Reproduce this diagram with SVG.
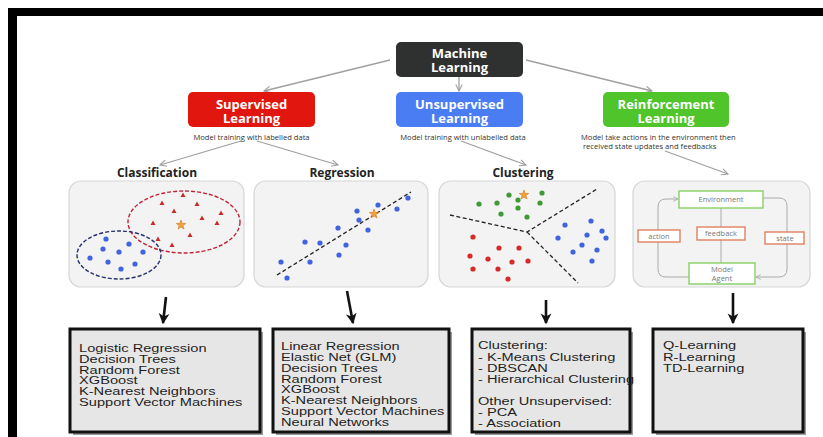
<svg xmlns="http://www.w3.org/2000/svg" width="823" height="437" viewBox="0 0 823 437">
<style>
.hdr{font-family:"Open Sans","DejaVu Sans",sans-serif;font-weight:bold;font-size:13px;fill:#fff;text-anchor:middle}
.cap{font-family:"Open Sans","DejaVu Sans",sans-serif;font-size:7.6px;fill:#333}
.lbl{font-family:"Open Sans","DejaVu Sans",sans-serif;font-weight:bold;font-size:12px;fill:#222;text-anchor:middle}
.panel{fill:#f3f3f3;stroke:#d6d6d6;stroke-width:1.2}
.gline{fill:none;stroke:#a0a0a0;stroke-width:1.3}
.bline{fill:none;stroke:#111;stroke-width:2.6}
.lst{font-family:"Liberation Sans",Arial,sans-serif;font-size:11px;fill:#1e1e1e}
.bx{fill:#e6e6e6;stroke:#111;stroke-width:3}
.shd{fill:#9a9a9a}
.rl{font-family:"Open Sans","DejaVu Sans",sans-serif;font-size:7.5px;fill:#777;text-anchor:middle}
.gbox{fill:#fff;stroke:#86d062;stroke-width:1.4}
.obox{fill:#fff;stroke:#e0805f;stroke-width:1.4}
.rlline{fill:none;stroke:#aaa;stroke-width:1}
.bd{fill:#4163e0}
.rd{fill:#d42a2a}
.gd{fill:#3f9a35}
</style>
<defs>
<marker id="ga" viewBox="0 0 10 10" refX="9" refY="5" markerWidth="8" markerHeight="8" markerUnits="userSpaceOnUse" orient="auto"><path d="M1,1 L9,5 L1,9" fill="none" stroke="#a0a0a0" stroke-width="1.4"/></marker>
<marker id="sa" viewBox="0 0 10 10" refX="9" refY="5" markerWidth="6" markerHeight="6" markerUnits="userSpaceOnUse" orient="auto"><path d="M1,1 L9,5 L1,9" fill="none" stroke="#aaa" stroke-width="1.4"/></marker>
<marker id="ba" viewBox="0 0 10 10" refX="8" refY="5" markerWidth="12" markerHeight="12" markerUnits="userSpaceOnUse" orient="auto"><path d="M0,0.5 L9,5 L0,9.5 L2.5,5 Z" fill="#111"/></marker>
<path id="tri" d="M0,-2.6 L2.5,2 L-2.5,2 Z" fill="#c82828"/>
<path id="star" d="M0,-5 L1.18,-1.62 L4.76,-1.55 L1.9,0.62 L2.94,4.05 L0,2 L-2.94,4.05 L-1.9,0.62 L-4.76,-1.55 L-1.18,-1.62 Z" fill="#f2a33a" stroke="#d2741a" stroke-width="0.6"/>
</defs>

<rect width="823" height="437" fill="#fff"/>
<rect x="8" y="8" width="815" height="8" fill="#000"/>
<rect x="8" y="8" width="9" height="429" fill="#000"/>

<g id="connectors">
<line class="gline" x1="390" y1="60" x2="264" y2="91" marker-end="url(#ga)"/>
<line class="gline" x1="459" y1="77" x2="459" y2="91" marker-end="url(#ga)"/>
<line class="gline" x1="526" y1="60" x2="652" y2="91" marker-end="url(#ga)"/>
<line class="gline" x1="241" y1="141" x2="160" y2="165" marker-end="url(#ga)"/>
<line class="gline" x1="257" y1="141" x2="338" y2="165" marker-end="url(#ga)"/>
<line class="gline" x1="461" y1="141" x2="526" y2="165" marker-end="url(#ga)"/>
<line class="gline" x1="665" y1="151" x2="728" y2="174" marker-end="url(#ga)"/>
<line class="bline" x1="166" y1="297" x2="163" y2="323" marker-end="url(#ba)"/>
<line class="bline" x1="347" y1="291" x2="353" y2="323" marker-end="url(#ba)"/>
<line class="bline" x1="546" y1="300" x2="546" y2="323" marker-end="url(#ba)"/>
<line class="bline" x1="733" y1="293" x2="733" y2="323" marker-end="url(#ba)"/>
</g>

<g id="machine-learning">
<rect x="396" y="42" width="127" height="35" rx="5" fill="#2f3030"/>
<text class="hdr" x="459.5" y="58">Machine</text>
<text class="hdr" x="459.5" y="72">Learning</text>
</g>

<g id="supervised">
<rect x="188" y="92" width="127" height="35" rx="5" fill="#e1170f"/>
<text class="hdr" x="251.5" y="109">Supervised</text>
<text class="hdr" x="251.5" y="123">Learning</text>
<text class="cap" x="251.5" y="140" text-anchor="middle">Model training with labelled data</text>
</g>

<g id="unsupervised">
<rect x="396" y="92" width="127" height="35" rx="5" fill="#4a7cf3"/>
<text class="hdr" x="459.5" y="109">Unsupervised</text>
<text class="hdr" x="459.5" y="123">Learning</text>
<text class="cap" x="463" y="140" text-anchor="middle">Model training with unlabelled data</text>
</g>

<g id="reinforcement">
<rect x="603" y="92" width="126" height="35" rx="5" fill="#4fc42b"/>
<text class="hdr" x="666" y="109">Reinforcement</text>
<text class="hdr" x="666" y="123">Learning</text>
<text class="cap" x="581" y="140">Model take actions in the environment then</text>
<text class="cap" x="583" y="148.5">received state updates and feedbacks</text>
</g>

<g id="classification">
<text class="lbl" x="157" y="177">Classification</text>
<rect class="panel" x="69" y="181" width="175" height="106" rx="12"/>
<ellipse cx="184" cy="222" rx="56" ry="31" fill="none" stroke="#c0243a" stroke-width="1.4" stroke-dasharray="4,2"/>
<ellipse cx="119" cy="255" rx="42" ry="24" fill="none" stroke="#27306e" stroke-width="1.4" stroke-dasharray="4,2"/>
<use href="#tri" x="183" y="195"/><use href="#tri" x="162" y="203"/><use href="#tri" x="197" y="204"/>
<use href="#tri" x="174" y="211"/><use href="#tri" x="221" y="213"/><use href="#tri" x="202" y="218"/>
<use href="#tri" x="153" y="223"/><use href="#tri" x="217" y="223"/><use href="#tri" x="190" y="235"/>
<use href="#tri" x="158" y="239"/><use href="#tri" x="172" y="245"/>
<use href="#star" x="181" y="225"/>
<circle class="bd" cx="106" cy="239" r="2.6"/><circle class="bd" cx="129" cy="244" r="2.6"/>
<circle class="bd" cx="103" cy="249" r="2.6"/><circle class="bd" cx="119" cy="252" r="2.6"/>
<circle class="bd" cx="143" cy="252" r="2.6"/><circle class="bd" cx="90" cy="258" r="2.6"/>
<circle class="bd" cx="108" cy="262" r="2.6"/><circle class="bd" cx="135" cy="264" r="2.6"/>
<circle class="bd" cx="121" cy="269" r="2.6"/>
</g>

<g id="regression">
<text class="lbl" x="342" y="177">Regression</text>
<rect class="panel" x="254" y="181" width="174" height="106" rx="12"/>
<line x1="277" y1="275" x2="411" y2="192" stroke="#222" stroke-width="1.3" stroke-dasharray="4,2.5"/>
<circle class="bd" cx="408" cy="198" r="2.6"/><circle class="bd" cx="378" cy="205" r="2.6"/>
<circle class="bd" cx="397" cy="209" r="2.6"/><circle class="bd" cx="357" cy="211" r="2.6"/>
<circle class="bd" cx="359" cy="220" r="2.6"/><circle class="bd" cx="368" cy="230" r="2.6"/>
<circle class="bd" cx="338" cy="228" r="2.6"/><circle class="bd" cx="305" cy="242" r="2.6"/>
<circle class="bd" cx="320" cy="243" r="2.6"/><circle class="bd" cx="346" cy="245" r="2.6"/>
<circle class="bd" cx="339" cy="255" r="2.6"/><circle class="bd" cx="310" cy="262" r="2.6"/>
<circle class="bd" cx="281" cy="262" r="2.6"/><circle class="bd" cx="287" cy="278" r="2.6"/>
<use href="#star" x="374" y="214"/>
</g>

<g id="clustering">
<text class="lbl" x="523" y="177">Clustering</text>
<rect class="panel" x="439" y="181" width="176" height="106" rx="12"/>
<path d="M450,215 L527,232 L597,189 M527,232 L578,283" fill="none" stroke="#222" stroke-width="1.3" stroke-dasharray="4,2.5"/>
<circle class="gd" cx="509" cy="195" r="2.6"/><circle class="gd" cx="542" cy="193" r="2.6"/>
<circle class="gd" cx="479" cy="204" r="2.6"/><circle class="gd" cx="497" cy="203" r="2.6"/>
<circle class="gd" cx="518" cy="200" r="2.6"/><circle class="gd" cx="540" cy="203" r="2.6"/>
<circle class="gd" cx="518" cy="208" r="2.6"/><circle class="gd" cx="501" cy="214" r="2.6"/>
<circle class="gd" cx="527" cy="217" r="2.6"/>
<use href="#star" x="524" y="195"/>
<circle class="rd" cx="473" cy="237" r="2.6"/><circle class="rd" cx="499" cy="248" r="2.6"/>
<circle class="rd" cx="519" cy="248" r="2.6"/><circle class="rd" cx="470" cy="256" r="2.6"/>
<circle class="rd" cx="488" cy="259" r="2.6"/><circle class="rd" cx="512" cy="262" r="2.6"/>
<circle class="rd" cx="528" cy="261" r="2.6"/><circle class="rd" cx="473" cy="269" r="2.6"/>
<circle class="rd" cx="498" cy="269" r="2.6"/><circle class="rd" cx="508" cy="279" r="2.6"/>
<circle class="bd" cx="565" cy="225" r="2.6"/><circle class="bd" cx="591" cy="221" r="2.6"/>
<circle class="bd" cx="602" cy="231" r="2.6"/><circle class="bd" cx="587" cy="235" r="2.6"/>
<circle class="bd" cx="558" cy="238" r="2.6"/><circle class="bd" cx="606" cy="238" r="2.6"/>
<circle class="bd" cx="582" cy="245" r="2.6"/><circle class="bd" cx="597" cy="250" r="2.6"/>
<circle class="bd" cx="573" cy="252" r="2.6"/><circle class="bd" cx="592" cy="261" r="2.6"/>
</g>

<g id="rl-diagram">
<rect class="panel" x="633" y="181" width="177" height="106" rx="12"/>
<line class="rlline" x1="721" y1="208" x2="721" y2="263"/>
<path class="rlline" d="M689,277 H666 Q658,277 658,269 V207 Q658,199 666,199 H678" marker-end="url(#sa)"/>
<path class="rlline" d="M763,198 H779 Q787,198 787,206 V269 Q787,277 779,277 H756" marker-end="url(#sa)"/>
<rect class="gbox" x="679" y="191" width="84" height="17"/>
<text class="rl" x="721" y="202" font-size="8">Environment</text>
<rect class="gbox" x="689" y="263" width="66" height="21"/>
<text class="rl" x="722" y="272" font-size="8">Model</text>
<text class="rl" x="722" y="281" font-size="8">Agent</text>
<rect class="obox" x="697" y="227" width="48" height="13"/>
<text class="rl" x="721" y="235.5" font-size="7">feedback</text>
<rect class="obox" x="638" y="230" width="42" height="12"/>
<text class="rl" x="659" y="238.5" font-size="7">action</text>
<rect class="obox" x="765" y="232" width="39" height="12"/>
<text class="rl" x="785" y="240.5" font-size="7">state</text>
</g>

<g id="classification-list">
<rect class="shd" x="73" y="332" width="190" height="103"/>
<rect class="bx" x="70" y="329" width="190" height="103"/>
<g transform="translate(79,0) scale(1.33,1)">
<text class="lst" x="0" y="352">Logistic Regression</text>
<text class="lst" x="0" y="363">Decision Trees</text>
<text class="lst" x="0" y="374">Random Forest</text>
<text class="lst" x="0" y="384.5">XGBoost</text>
<text class="lst" x="0" y="395.5">K-Nearest Neighbors</text>
<text class="lst" x="0" y="406.5">Support Vector Machines</text>
</g>
</g>

<g id="regression-list">
<rect class="shd" x="276" y="332" width="176" height="103"/>
<rect class="bx" x="273" y="329" width="176" height="103"/>
<g transform="translate(281,0) scale(1.33,1)">
<text class="lst" x="0" y="350">Linear Regression</text>
<text class="lst" x="0" y="361">Elastic Net (GLM)</text>
<text class="lst" x="0" y="372">Decision Trees</text>
<text class="lst" x="0" y="383">Random Forest</text>
<text class="lst" x="0" y="393.5">XGBoost</text>
<text class="lst" x="0" y="404.5">K-Nearest Neighbors</text>
<text class="lst" x="0" y="415.5">Support Vector Machines</text>
<text class="lst" x="0" y="426">Neural Networks</text>
</g>
</g>

<g id="unsupervised-list">
<rect class="shd" x="475" y="332" width="158" height="103"/>
<rect class="bx" x="472" y="329" width="158" height="103"/>
<g transform="translate(478,0) scale(1.33,1)">
<text class="lst" x="0" y="349.5">Clustering:</text>
<text class="lst" x="0" y="361">- K-Means Clustering</text>
<text class="lst" x="0" y="372">- DBSCAN</text>
<text class="lst" x="0" y="383">- Hierarchical Clustering</text>
<text class="lst" x="0" y="405">Other Unsupervised:</text>
<text class="lst" x="0" y="416">- PCA</text>
<text class="lst" x="0" y="427">- Association</text>
</g>
</g>

<g id="reinforcement-list">
<rect class="shd" x="656" y="332" width="150" height="103"/>
<rect class="bx" x="653" y="329" width="150" height="103"/>
<g transform="translate(663,0) scale(1.33,1)">
<text class="lst" x="0" y="349.5">Q-Learning</text>
<text class="lst" x="0" y="361">R-Learning</text>
<text class="lst" x="0" y="372">TD-Learning</text>
</g>
</g>
</svg>
